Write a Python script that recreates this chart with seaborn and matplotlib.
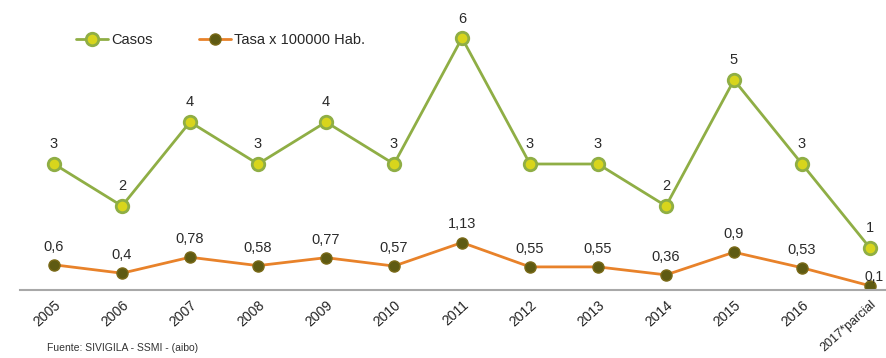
import matplotlib
matplotlib.use("Agg")
import matplotlib.pyplot as plt
import seaborn as sns
import pandas as pd
import numpy as np
from matplotlib.ticker import FixedLocator

categories = ["2005", "2006", "2007", "2008", "2009", "2010", "2011", "2012",
              "2013", "2014", "2015", "2016", "2017*parcial"]
casos = [3, 2, 4, 3, 4, 3, 6, 3, 3, 2, 5, 3, 1]
tasa = [0.6, 0.4, 0.78, 0.58, 0.77, 0.57, 1.13, 0.55, 0.55, 0.36, 0.9, 0.53, 0.1]
tasa_labels = ["0,6", "0,4", "0,78", "0,58", "0,77", "0,57", "1,13", "0,55",
               "0,55", "0,36", "0,9", "0,53", "0,1"]
source = "Fuente: SIVIGILA - SSMI - (aibo)"

sns.set_theme(style="white")
plt.rcParams['font.family'] = ['Liberation Sans', 'DejaVu Sans']

fig = plt.figure(figsize=(8.86, 3.58), dpi=100)
W, H = 886, 358
left, right, bottom, top = 20, 904, 290, 0
ax = fig.add_axes([left / W, 1 - bottom / H, (right - left) / W, (bottom - top) / H])

df = pd.DataFrame({"cat": categories, "casos": casos, "tasa": tasa})

sns.lineplot(data=df, x="cat", y="casos", ax=ax, color="#8FAE45", linewidth=2.0,
             marker="o", markersize=9, markerfacecolor="#D8D51C",
             markeredgecolor="#8FAE45", markeredgewidth=2.0, label="Casos", sort=False)
sns.lineplot(data=df, x="cat", y="tasa", ax=ax, color="#E8822A", linewidth=2.0,
             marker="o", markersize=8, markerfacecolor="#5E5A12",
             markeredgecolor="#7A6A18", markeredgewidth=1.0,
             label="Tasa x 100000 Hab.", sort=False)

for i, v in enumerate(casos):
    ax.annotate(str(v), (i, v), xytext=(0, 9), textcoords="offset points",
                ha="center", va="bottom", fontsize=10.5, color="#2a2a2a")
for i, (v, lab) in enumerate(zip(tasa, tasa_labels)):
    if i == len(tasa) - 1:
        ax.annotate(lab, (i, v), xytext=(-4, 1), textcoords="offset points",
                    ha="left", va="bottom", fontsize=10, color="#2a2a2a")
    else:
        ax.annotate(lab, (i, v), xytext=(0, 8), textcoords="offset points",
                    ha="center", va="bottom", fontsize=10.5, color="#2a2a2a")

ax.set_xlim(-0.5, len(categories) - 0.5)
ax.set_ylim(0, 290 / 42)
ax.set_xlabel("")
ax.set_ylabel("")
ax.set_yticks([])
ax.set_xticks(range(len(categories)))
ax.set_xticklabels(categories, rotation=42, ha="right", rotation_mode="anchor",
                   fontsize=10, color="#222222")
ax.get_xticklabels()[-1].set_fontsize(9)
ax.tick_params(axis="x", which="major", length=0, pad=6)
ax.xaxis.set_minor_locator(FixedLocator(np.arange(-0.5, len(categories), 1.0)))
ax.tick_params(axis="x", which="minor", length=5, direction="inout",
               color="#A8A8A8", width=1)
for s in ["top", "right", "left"]:
    ax.spines[s].set_visible(False)
ax.spines["bottom"].set_color("#A8A8A8")
ax.spines["bottom"].set_linewidth(1.5)

leg = ax.legend(loc="upper left", bbox_to_anchor=(50 / (right - left), 1 - 27 / 290),
                ncol=2, frameon=False, fontsize=10.5, handlelength=2.2,
                columnspacing=3.2, handletextpad=0.2, borderaxespad=0)

fig.text(47 / W, 1 - 348 / H, source, fontsize=7.5, color="#333333",
         ha="left", va="center")

fig.savefig("out.png", dpi=100)
